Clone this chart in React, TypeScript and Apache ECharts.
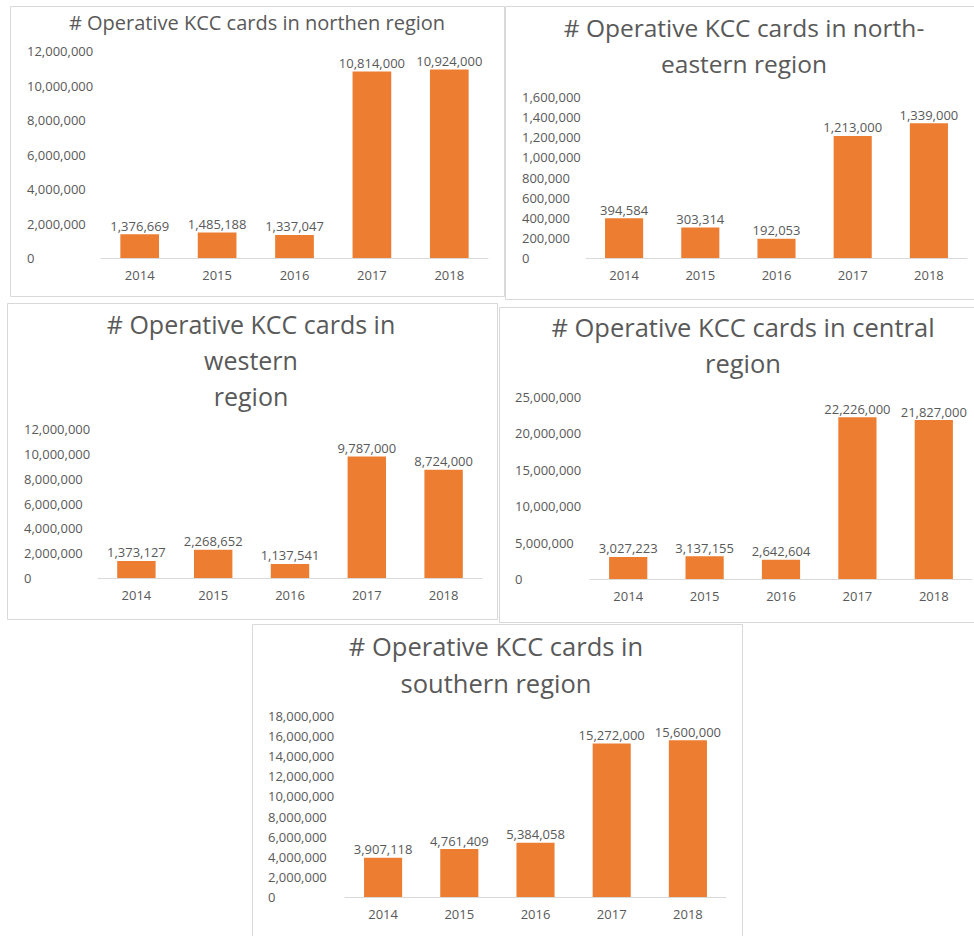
import React, { useEffect, useRef } from "react";
import * as echarts from "echarts";

// Years on every category axis
const years = ["2014", "2015", "2016", "2017", "2018"];

// Operative KCC cards per region
const northern = [1376669, 1485188, 1337047, 10814000, 10924000];
const northEastern = [394584, 303314, 192053, 1213000, 1339000];
const western = [1373127, 2268652, 1137541, 9787000, 8724000];
const central = [3027223, 3137155, 2642604, 22226000, 21827000];
const southern = [3907118, 4761409, 5384058, 15272000, 15600000];

const titles = [
  "# Operative KCC cards in northen region",
  "# Operative KCC cards in north-\neastern region",
  "# Operative KCC cards in\nwestern\nregion",
  "# Operative KCC cards in central\nregion",
  "# Operative KCC cards in\nsouthern region",
];

// Value-axis ranges
const axisMax = [12000000, 1600000, 12000000, 25000000, 18000000];
const axisStep = [2000000, 200000, 2000000, 5000000, 2000000];

const seriesData = [northern, northEastern, western, central, southern];

// Panel geometry: frame, title anchor, plot area
const panels = [
  { frame: [10, 6, 494, 290], title: { x: 257, y: 10, size: 20, lh: 24 }, grid: { left: 101, top: 51, width: 387, height: 207 }, labelX: 27 },
  { frame: [505, 6, 480, 293], title: { x: 744, y: 9, size: 24.5, lh: 36 }, grid: { left: 586, top: 97, width: 381, height: 161 }, labelX: 522 },
  { frame: [7, 303, 490, 316], title: { x: 251, y: 306, size: 25, lh: 36 }, grid: { left: 98, top: 429, width: 384, height: 149 }, labelX: 24 },
  { frame: [499, 307, 480, 315], title: { x: 743, y: 309, size: 25.5, lh: 36 }, grid: { left: 590, top: 397, width: 382, height: 182 }, labelX: 515 },
  { frame: [252, 624, 490, 320], title: { x: 496, y: 627, size: 25.5, lh: 37 }, grid: { left: 345, top: 716, width: 381, height: 181 }, labelX: 268 },
];

const FONT = "'Open Sans', 'Noto Sans', sans-serif";
const TEXT = "#595959";
const BAR = "#ED7D31";
const fmt = (v: number) => Math.round(v).toLocaleString("en-US");

export default function App() {
  const ref = useRef<HTMLDivElement>(null);

  useEffect(() => {
    if (!ref.current) return;
    const chart = echarts.init(ref.current, undefined, { renderer: "svg" });

    const graphic: any[] = [];
    panels.forEach((p, i) => {
      const [fx, fy, fw, fh] = p.frame;
      graphic.push({
        type: "rect",
        z: 0,
        shape: { x: fx + 0.5, y: fy + 0.5, width: fw, height: fh },
        style: { fill: "#ffffff", stroke: "#d9d9d9", lineWidth: 1 },
      });
      graphic.push({
        type: "text",
        z: 1,
        x: p.title.x,
        y: p.title.y,
        style: {
          text: titles[i],
          fill: TEXT,
          fontFamily: FONT,
          fontSize: p.title.size,
          lineHeight: p.title.lh,
          align: "center",
          verticalAlign: "top",
        },
      });
    });

    const option: any = {
      animation: false,
      backgroundColor: "#ffffff",
      graphic,
      grid: panels.map((p) => ({ ...p.grid, containLabel: false })),
      xAxis: panels.map((_, i) => ({
        type: "category",
        gridIndex: i,
        data: years,
        axisLine: { lineStyle: { color: "#d9d9d9", width: 1 } },
        axisTick: { show: false },
        axisLabel: { color: TEXT, fontFamily: FONT, fontSize: 13, margin: 10 },
      })),
      yAxis: panels.map((p, i) => ({
        type: "value",
        gridIndex: i,
        min: 0,
        max: axisMax[i],
        interval: axisStep[i],
        splitLine: { show: false },
        axisLine: { show: false },
        axisTick: { show: false },
        axisLabel: {
          color: TEXT,
          fontFamily: FONT,
          fontSize: 13,
          align: "left",
          margin: p.grid.left - p.labelX,
          formatter: (v: number) => fmt(v),
        },
      })),
      series: seriesData.map((d, i) => ({
        type: "bar",
        xAxisIndex: i,
        yAxisIndex: i,
        data: d,
        barCategoryGap: "50%",
        itemStyle: { color: BAR },
        label: {
          show: true,
          position: "top",
          distance: 2,
          color: TEXT,
          fontFamily: FONT,
          fontSize: 13,
          formatter: (prm: any) => fmt(prm.value),
        },
      })),
    };

    chart.setOption(option);
    return () => chart.dispose();
  }, []);

  return (
    <div
      ref={ref}
      style={{ position: "absolute", left: 0, top: 0, width: 974, height: 936 }}
    />
  );
}
